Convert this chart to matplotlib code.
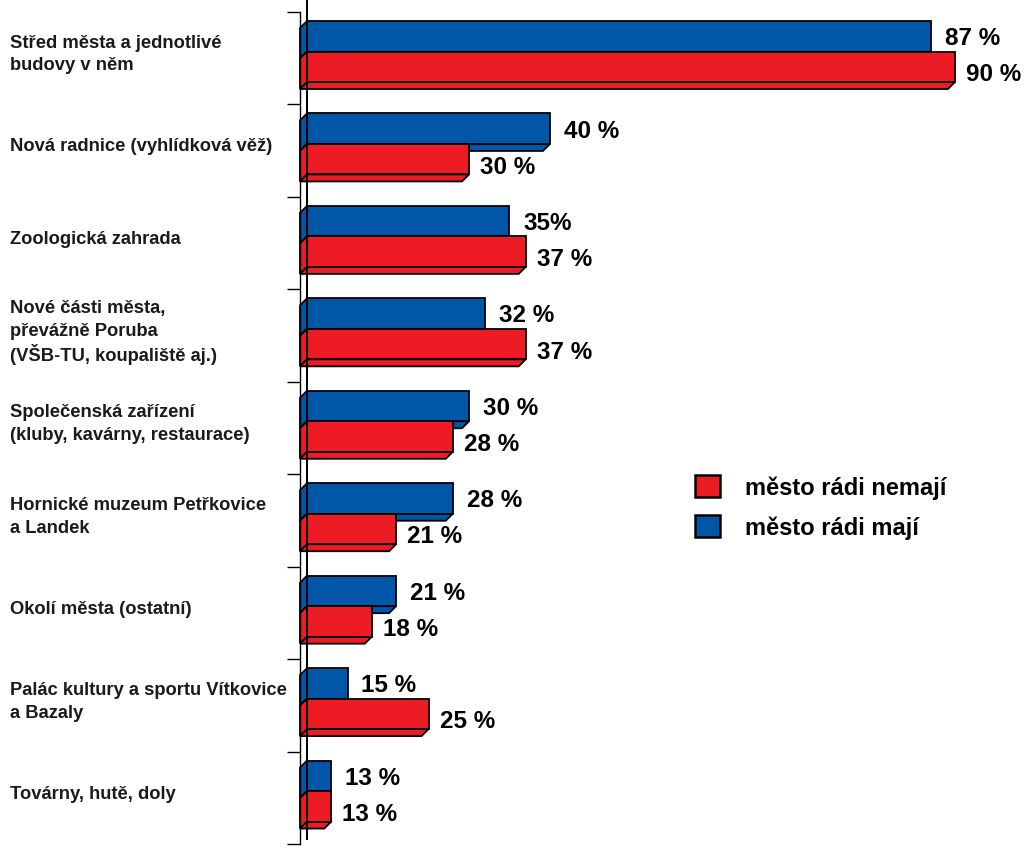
import matplotlib
matplotlib.use('Agg')
import matplotlib.pyplot as plt
from matplotlib.patches import Polygon, Patch

categories = ['Střed města a jednotlivé\nbudovy v něm',
              'Nová radnice (vyhlídková věž)',
              'Zoologická zahrada',
              'Nové části města,\npřevážně Poruba\n(VŠB-TU, koupaliště aj.)',
              'Společenská zařízení\n(kluby, kavárny, restaurace)',
              'Hornické muzeum Petřkovice\na Landek',
              'Okolí města (ostatní)',
              'Palác kultury a sportu Vítkovice\na Bazaly',
              'Továrny, hutě, doly']
like_it = [87, 40, 35, 32, 30, 28, 21, 15, 13]
dislike_it = [90, 30, 37, 37, 28, 21, 18, 25, 13]
like_labels = ['87 %', '40 %', '35%', '32 %', '30 %', '28 %', '21 %', '15 %', '13 %']
dislike_labels = ['90 %', '30 %', '37 %', '37 %', '28 %', '21 %', '18 %', '25 %', '13 %']
legend_labels = ['město rádi nemají', 'město rádi mají']

BLUE = '#0057a8'
RED = '#ed1c24'

plt.rcParams['font.family'] = ['Liberation Sans', 'DejaVu Sans']

W, H = 1028, 853
fig = plt.figure(figsize=(W / 100, H / 100), dpi=100)
ax_left, ax_top, ax_bot = 307, 13, 845
ax = fig.add_axes([ax_left / W, 1 - ax_bot / H, (W - ax_left) / W, (ax_bot - ax_top) / H])

px_per_pct = 8.1
x0 = 10
ax.set_xlim(x0, x0 + (W - ax_left) / px_per_pct)
n = len(categories)
ax.set_ylim(n, 0)
px_per_cat = (ax_bot - ax_top) / n

depth = 7
dx = depth / px_per_pct
dy = depth / px_per_cat

bar_h = 30.5 / px_per_cat
top_off = 9 / px_per_cat
edge_lw = 1.3


def draw_bars(values, offset, color):
    ys = [i + offset + bar_h / 2 for i in range(n)]
    for y, v in zip(ys, values):
        ya, yb = y - bar_h / 2, y + bar_h / 2
        left = Polygon([(x0, ya), (x0, yb), (x0 - dx, yb + dy), (x0 - dx, ya + dy)],
                       closed=True, facecolor=color, edgecolor='black', lw=edge_lw,
                       clip_on=False, joinstyle='miter')
        bottom = Polygon([(x0, yb), (v, yb), (v - dx, yb + dy), (x0 - dx, yb + dy)],
                         closed=True, facecolor=color, edgecolor='black', lw=edge_lw,
                         clip_on=False, joinstyle='miter')
        ax.add_patch(left)
        ax.add_patch(bottom)
    ax.barh(ys, [v - x0 for v in values], left=x0, height=bar_h, color=color,
            edgecolor='black', linewidth=edge_lw, clip_on=False)
    return ys


ys_like = draw_bars(like_it, top_off, BLUE)
ys_dislike = draw_bars(dislike_it, top_off + bar_h, RED)

for y, v, lab in zip(ys_like, like_it, like_labels):
    ax.annotate(lab, (v, y), xytext=(10, -1), textcoords='offset points',
                ha='left', va='center', fontsize=17.5, fontweight='bold')
for y, v, lab in zip(ys_dislike, dislike_it, dislike_labels):
    ax.annotate(lab, (v, y), xytext=(8, -5), textcoords='offset points',
                ha='left', va='center', fontsize=17.5, fontweight='bold')

# category names on the left, one line at a time
line_px = 23
for i, cat in enumerate(categories):
    lines = cat.split('\n')
    mid = ax_top + (i + top_off + bar_h) * px_per_cat
    for j, line in enumerate(lines):
        ypx = mid + (j - (len(lines) - 1) / 2) * line_px
        fig.text(10 / W, 1 - ypx / H, line, ha='left', va='center_baseline',
                 fontsize=13.2, fontweight='bold', color='#1a1a1a')

# axes: back wall line with ticks, front line at zero of the bars
for s in ['top', 'right', 'bottom']:
    ax.spines[s].set_visible(False)
ax.spines['left'].set_position(('outward', depth * 0.72))
ax.spines['left'].set_linewidth(1.0)
ax.set_yticks(range(n + 1))
ax.set_yticklabels([])
ax.tick_params(axis='y', length=13 * 0.72, width=1.0, direction='out')
ax.set_xticks([])
ax.plot([x0, x0], [-ax_top / px_per_cat, n - 5 / px_per_cat], color='black',
        lw=1.4, clip_on=False, zorder=5)

handles = [Patch(facecolor=RED, edgecolor='black', lw=1.8),
           Patch(facecolor=BLUE, edgecolor='black', lw=1.8)]
ax.legend(handles, legend_labels, loc='upper left',
          bbox_to_anchor=(695 / W, 1 - 476 / H), bbox_transform=fig.transFigure,
          frameon=False, prop={'size': 17, 'weight': 'bold'},
          handlelength=1.05, handleheight=1.05, handletextpad=1.05,
          labelspacing=0.68, borderpad=0, borderaxespad=0)

fig.savefig('out.png', dpi=100)
